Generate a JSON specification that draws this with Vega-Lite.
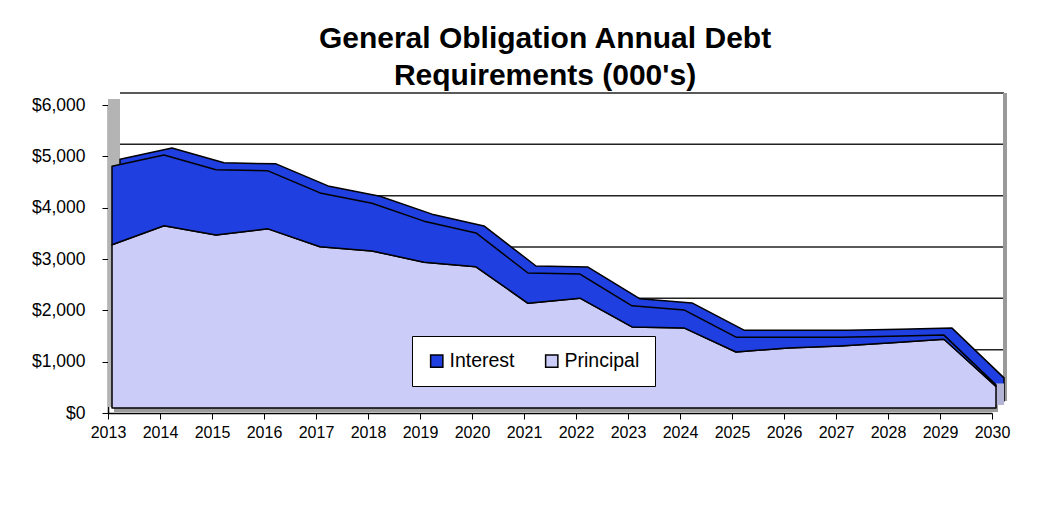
{
  "$schema": "https://vega.github.io/schema/vega-lite/v6.json",
  "width": 884,
  "height": 308,
  "autosize": "none",
  "padding": {"left": 108, "top": 105, "right": 57, "bottom": 95},
  "background": "white",
  "config": {"view": {"stroke": null}, "font": "Liberation Sans"},
  "title": {
    "text": ["General Obligation Annual Debt", "Requirements (000's)"],
    "font": "Liberation Sans",
    "fontSize": 30,
    "fontWeight": "bold",
    "lineHeight": 37,
    "anchor": "middle",
    "color": "black",
    "offset": 1,
    "dx": -5
  },
  "datasets": {
    "debt": [
      {"year": 2013, "type": "Principal", "value": 3180},
      {"year": 2014, "type": "Principal", "value": 3550},
      {"year": 2015, "type": "Principal", "value": 3370},
      {"year": 2016, "type": "Principal", "value": 3490},
      {"year": 2017, "type": "Principal", "value": 3140},
      {"year": 2018, "type": "Principal", "value": 3060},
      {"year": 2019, "type": "Principal", "value": 2840},
      {"year": 2020, "type": "Principal", "value": 2750},
      {"year": 2021, "type": "Principal", "value": 2040},
      {"year": 2022, "type": "Principal", "value": 2140},
      {"year": 2023, "type": "Principal", "value": 1580},
      {"year": 2024, "type": "Principal", "value": 1560},
      {"year": 2025, "type": "Principal", "value": 1090},
      {"year": 2026, "type": "Principal", "value": 1170},
      {"year": 2027, "type": "Principal", "value": 1210},
      {"year": 2028, "type": "Principal", "value": 1270},
      {"year": 2029, "type": "Principal", "value": 1340},
      {"year": 2030, "type": "Principal", "value": 420},
      {"year": 2013, "type": "Interest", "value": 1530},
      {"year": 2014, "type": "Interest", "value": 1380},
      {"year": 2015, "type": "Interest", "value": 1270},
      {"year": 2016, "type": "Interest", "value": 1130},
      {"year": 2017, "type": "Interest", "value": 1050},
      {"year": 2018, "type": "Interest", "value": 930},
      {"year": 2019, "type": "Interest", "value": 800},
      {"year": 2020, "type": "Interest", "value": 660},
      {"year": 2021, "type": "Interest", "value": 590},
      {"year": 2022, "type": "Interest", "value": 470},
      {"year": 2023, "type": "Interest", "value": 410},
      {"year": 2024, "type": "Interest", "value": 350},
      {"year": 2025, "type": "Interest", "value": 290},
      {"year": 2026, "type": "Interest", "value": 210},
      {"year": 2027, "type": "Interest", "value": 170},
      {"year": 2028, "type": "Interest", "value": 130},
      {"year": 2029, "type": "Interest", "value": 80},
      {"year": 2030, "type": "Interest", "value": 30}
    ],
    "grid": [
      {"v": 0}, {"v": 1000}, {"v": 2000}, {"v": 3000}, {"v": 4000}, {"v": 5000}, {"v": 6000}
    ]
  },
  "layer": [
    {
      "data": {"name": "grid"},
      "mark": {"type": "rule", "color": "#222222", "strokeWidth": 1.5, "xOffset": 12, "x2Offset": 12, "yOffset": -12, "y2Offset": -12},
      "encoding": {
        "x": {"datum": 2013, "type": "quantitative", "scale": {"domain": [2013, 2030], "nice": false, "zero": false}},
        "x2": {"datum": 2030},
        "y": {"field": "v", "type": "quantitative"}
      }
    },
    {
      "data": {"name": "grid"},
      "mark": {"type": "rule", "color": "#9a9a9a", "strokeWidth": 3, "xOffset": 13, "x2Offset": 13, "yOffset": -12, "y2Offset": -12},
      "encoding": {
        "x": {"datum": 2030, "type": "quantitative"},
        "y": {"datum": 0, "type": "quantitative"},
        "y2": {"datum": 6000}
      }
    },
    {
      "data": {"name": "grid"},
      "mark": {"type": "rule", "color": "#b4b4b4", "strokeWidth": 12, "xOffset": 6, "x2Offset": 6, "yOffset": -6, "y2Offset": -6},
      "encoding": {
        "x": {"datum": 2013, "type": "quantitative"},
        "y": {"datum": 0, "type": "quantitative"},
        "y2": {"datum": 6000}
      }
    },
    {
      "data": {"name": "grid"},
      "mark": {"type": "rule", "color": "#9c9c9c", "strokeWidth": 10, "xOffset": 6, "x2Offset": 6, "yOffset": -6, "y2Offset": -6},
      "encoding": {
        "x": {"datum": 2013, "type": "quantitative"},
        "x2": {"datum": 2030},
        "y": {"datum": 0, "type": "quantitative"}
      }
    },
    {
      "data": {"name": "debt"},
      "transform": [{"aggregate": [{"op": "sum", "field": "value", "as": "total"}], "groupby": ["year"]}],
      "mark": {"type": "area", "color": "#1f3fe0", "stroke": "black", "strokeWidth": 1.5, "strokeJoin": "round", "xOffset": 12, "x2Offset": 12, "yOffset": -12, "y2Offset": -12},
      "encoding": {
        "x": {"field": "year", "type": "quantitative"},
        "y": {"field": "total", "type": "quantitative"}
      }
    },
    {
      "data": {"name": "debt"},
      "transform": [{"filter": {"field": "year", "equal": 2030}}, {"filter": {"field": "type", "equal": "Principal"}}],
      "mark": {"type": "rule", "color": "#b4b4d6", "strokeWidth": 8, "xOffset": 8, "x2Offset": 8, "yOffset": -8, "y2Offset": -8},
      "encoding": {
        "x": {"field": "year", "type": "quantitative"},
        "y": {"field": "value", "type": "quantitative"},
        "y2": {"datum": 0}
      }
    },
    {
      "data": {"name": "debt"},
      "mark": {"type": "area", "stroke": "black", "strokeWidth": 1.5, "strokeJoin": "round", "xOffset": 4, "x2Offset": 4, "yOffset": -5, "y2Offset": -5},
      "encoding": {
        "x": {
          "field": "year", "type": "quantitative",
          "axis": {
            "values": [2013, 2014, 2015, 2016, 2017, 2018, 2019, 2020, 2021, 2022, 2023, 2024, 2025, 2026, 2027, 2028, 2029, 2030],
            "format": "d", "title": null, "grid": false,
            "labelFontSize": 16, "labelColor": "black", "labelFont": "Liberation Sans",
            "tickSize": 6, "tickColor": "black", "domainColor": "black", "domainWidth": 1.5, "labelPadding": 5,
            "labelFlush": false, "labelOverlap": false
          }
        },
        "y": {
          "field": "value", "type": "quantitative", "stack": "zero",
          "scale": {"domain": [0, 6000], "nice": false},
          "axis": {
            "values": [0, 1000, 2000, 3000, 4000, 5000, 6000],
            "format": "$,.0f", "title": null, "grid": false,
            "labelFontSize": 17.5, "labelColor": "black", "labelFont": "Liberation Sans",
            "tickSize": 6, "tickColor": "black", "domainColor": "black", "domainWidth": 1.5, "labelPadding": 17
          }
        },
        "order": {"field": "type", "sort": "descending"},
        "color": {
          "field": "type", "type": "nominal",
          "scale": {"domain": ["Interest", "Principal"], "range": ["#1f3fe0", "#ccccf8"]},
          "legend": {
            "title": null, "orient": "none", "legendX": 304, "legendY": 231,
            "direction": "horizontal", "fillColor": "white", "strokeColor": "black",
            "padding": 15, "labelFontSize": 19.5, "labelFont": "Liberation Sans", "labelColor": "black",
            "symbolType": "square", "symbolSize": 150, "symbolStrokeColor": "black", "symbolStrokeWidth": 1.5,
            "symbolOpacity": 1, "columnPadding": 27, "labelOffset": 3
          }
        }
      }
    }
  ]
}
